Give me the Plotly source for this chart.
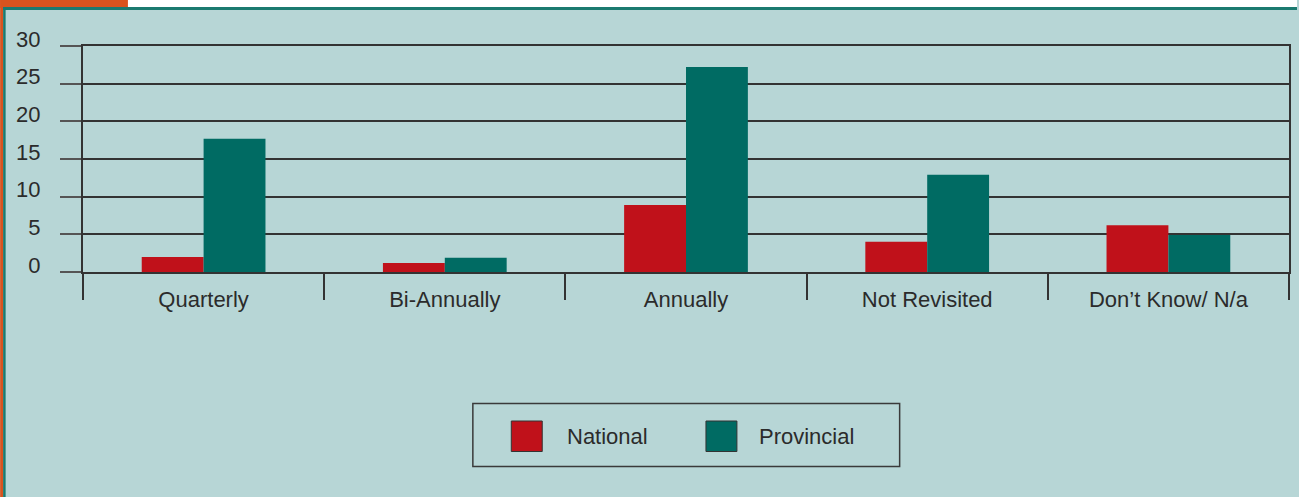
import plotly.graph_objects as go

categories = ["Quarterly", "Bi-Annually", "Annually", "Not Revisited", "Don\u2019t Know/ N/a"]
national = [2.0, 1.2, 8.9, 4.0, 6.2]
provincial = [17.7, 1.9, 27.2, 12.9, 4.9]
series_names = ["National", "Provincial"]
y_ticks = [0, 5, 10, 15, 20, 25, 30]

W, H = 1299, 497
L, R, T, B = 83, 8, 46, 225
PW, PH = W - L - R, H - T - B

def px(x):
    return (x - L) / PW

def py(y):
    return (H - B - y) / PH

BG = "#b7d6d6"
RED = "#c0111a"
GREEN = "#006b63"
TXT = "#2b2b2b"
FONT = "Liberation Sans, Arial, sans-serif"

fig = go.Figure()
fig.add_trace(go.Bar(x=categories, y=national, name=series_names[0], marker=dict(color=RED, line=dict(width=0)), showlegend=False))
fig.add_trace(go.Bar(x=categories, y=provincial, name=series_names[1], marker=dict(color=GREEN, line=dict(width=0)), showlegend=False))

shapes = []
# frame decorations
shapes.append(dict(type="rect", xref="paper", yref="paper", x0=px(0), x1=px(W), y0=py(0), y1=py(8), fillcolor="white", line=dict(width=0), layer="below"))
shapes.append(dict(type="rect", xref="paper", yref="paper", x0=px(0), x1=px(128), y0=py(0), y1=py(8), fillcolor="#d9531e", line=dict(width=0), layer="below"))
shapes.append(dict(type="rect", xref="paper", yref="paper", x0=px(0), x1=px(3), y0=py(0), y1=py(H), fillcolor="#d9531e", line=dict(width=0), layer="below"))
shapes.append(dict(type="rect", xref="paper", yref="paper", x0=px(3), x1=px(W), y0=py(7), y1=py(10), fillcolor="#1b7a70", line=dict(width=0), layer="below"))
shapes.append(dict(type="rect", xref="paper", yref="paper", x0=px(3), x1=px(5.5), y0=py(7), y1=py(H), fillcolor="#1b7a70", line=dict(width=0), layer="below"))
# legend box
shapes.append(dict(type="rect", xref="paper", yref="paper", x0=px(473.5), x1=px(901), y0=py(403.5), y1=py(466.5), line=dict(color="#3a3a3a", width=1.5), fillcolor="rgba(0,0,0,0)"))
legend_items = [(series_names[0], RED, 512, 566), (series_names[1], GREEN, 707, 758)]
annotations = []
for name, col, sx, tx in legend_items:
    shapes.append(dict(type="rect", xref="paper", yref="paper", x0=px(sx), x1=px(sx + 31), y0=py(421), y1=py(451.5), fillcolor=col, line=dict(color="#333", width=1)))
    annotations.append(dict(xref="paper", yref="paper", x=px(tx), y=py(436), text=name, showarrow=False, xanchor="left", yanchor="middle", font=dict(family=FONT, size=22, color=TXT)))

fig.update_layout(
    width=W, height=H,
    margin=dict(l=L, r=R, t=T, b=B, pad=0),
    paper_bgcolor=BG, plot_bgcolor=BG,
    barmode="group", bargap=0.487, bargroupgap=0,
    font=dict(family=FONT, size=22, color=TXT),
    shapes=shapes, annotations=annotations,
    showlegend=False,
)
fig.update_xaxes(
    type="category", showgrid=False, showline=True, mirror=True, linecolor="#333", linewidth=2,
    ticks="outside", tickson="boundaries", ticklen=26, tickwidth=2, tickcolor="#333",
    ticklabelstandoff=7, tickfont=dict(size=22, color=TXT),
)
fig.update_yaxes(
    range=[0, 30], tickvals=y_ticks, showgrid=True, gridcolor="#333", gridwidth=2,
    showline=True, mirror=True, linecolor="#333", linewidth=2, zeroline=False,
    ticks="outside", ticklen=21, tickwidth=2, tickcolor="#555",
    ticklabelstandoff=15, ticklabelshift=-7, tickfont=dict(size=22, color=TXT),
)
fig.write_html("out.html", config={"displayModeBar": False},
               post_script="document.body.style.margin='0';document.body.style.padding='0';")
